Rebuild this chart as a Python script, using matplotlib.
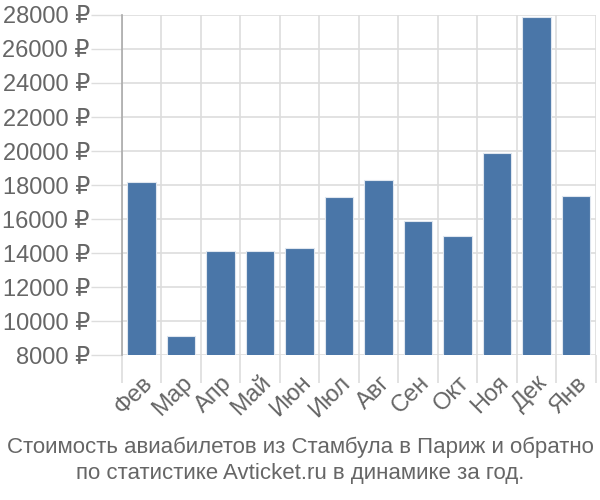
import matplotlib
matplotlib.use('Agg')
import matplotlib.pyplot as plt
import numpy as np

plt.rcParams['font.family'] = ['Liberation Sans', 'DejaVu Sans']

months = ['Фев', 'Мар', 'Апр', 'Май', 'Июн', 'Июл', 'Авг', 'Сен', 'Окт', 'Ноя', 'Дек', 'Янв']
prices = [18180, 9140, 14140, 14100, 14320, 17270, 18280, 15890, 15010, 19900, 27880, 17370]
y_ticks = [8000, 10000, 12000, 14000, 16000, 18000, 20000, 22000, 24000, 26000, 28000]
title = 'Стоимость авиабилетов из Стамбула в Париж и обратно\nпо статистике Avticket.ru в динамике за год.'

text_color = '#666666'
grid_color = '#dddddd'

fig = plt.figure(figsize=(6, 5), dpi=100)
ax = fig.add_axes([0.203, 0.29, 0.79, 0.68])

x = np.arange(len(months))
ax.bar(x, prices, width=0.72, color='#4a76a8', edgecolor='#dfe6ef', linewidth=0.8, zorder=3)

ax.set_xlim(-0.5, len(months) - 0.5)
ax.set_ylim(8000, 28000)

ax.set_yticks(y_ticks)
ax.set_yticklabels(['{} ₽'.format(v) for v in y_ticks], fontsize=17, color=text_color)
ax.tick_params(axis='y', length=22, color=grid_color, width=1, pad=1)

# category boundaries as grid / ticks
ax.set_xticks(np.arange(len(months) + 1) - 0.5, minor=True)
ax.set_xticks(x)
ax.set_xticklabels(months, rotation=45, ha='right', rotation_mode='anchor',
                   fontsize=17, color=text_color)
ax.tick_params(axis='x', which='major', length=0, pad=12)
ax.tick_params(axis='x', which='minor', length=20, color=grid_color, width=1.2)

ax.grid(True, axis='y', color=grid_color, linewidth=1.2, zorder=0)
ax.grid(True, axis='x', which='minor', color=grid_color, linewidth=1.2, zorder=0)
ax.grid(False, axis='x', which='major')

for s in ['top', 'right', 'bottom']:
    ax.spines[s].set_visible(False)
ax.spines['left'].set_color('#aaaaaa')
ax.spines['left'].set_linewidth(1.2)

fig.text(0.5, 0.08, title, ha='center', va='center', fontsize=16,
         color=text_color, linespacing=1.3)

fig.savefig('out.png', dpi=100)
